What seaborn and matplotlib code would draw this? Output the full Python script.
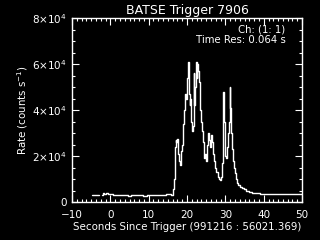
import matplotlib
matplotlib.use("Agg")
import matplotlib.pyplot as plt
from matplotlib.ticker import MultipleLocator
import seaborn as sns
import pandas as pd

title = "BATSE Trigger 7906"
xlabel = "Seconds Since Trigger (991216 : 56021.369)"
ylabel = "Rate (counts s$^{-1}$)"
channel_text = "Ch: (1: 1)"
res_text = "Time Res: 0.064 s"

xticks = [-10, 0, 10, 20, 30, 40, 50]
yticks = [0, 20000, 40000, 60000, 80000]
ytick_labels = ["0", "2×10$^4$", "4×10$^4$", "6×10$^4$", "8×10$^4$"]

# first short segment of background
pre_time = [-4.8, -3.0]
pre_rate = [2900, 2900]

# main light curve
time = [-2.2, -1.8, -1.4, -0.8, -0.3, 0.3, 1.0, 2.0, 3.0, 4.0, 5.0, 6.0, 7.0, 8.0, 9.0,
        10.0, 11.0, 12.0, 13.0, 14.0, 15.0, 15.6, 16.1, 16.4, 16.6, 16.9, 17.1, 17.3, 17.5,
        17.8, 18.1, 18.3, 18.6, 18.9, 19.1, 19.4, 19.6, 19.9, 20.1, 20.4, 20.6, 20.8, 21.0,
        21.2, 21.4, 21.6, 21.8, 22.0, 22.2, 22.4, 22.6, 22.8, 23.0, 23.2, 23.4, 23.6, 23.8,
        24.0, 24.3, 24.5, 24.7, 25.0, 25.3, 25.5, 25.8, 26.0, 26.3, 26.5, 26.8, 27.1, 27.4,
        27.8, 28.1, 28.4, 28.7, 29.0, 29.2, 29.4, 29.5, 29.7, 29.9, 30.1, 30.3, 30.5, 30.8,
        31.0, 31.2, 31.4, 31.6, 31.8, 32.0, 32.3, 32.6, 32.9, 33.2, 33.6, 34.0, 34.5, 35.0,
        35.5, 36.0, 36.5, 37.5, 38.5, 39.5, 41.0, 43.0, 45.0, 47.0, 48.5, 49.5, 50.0]
rate = [3200, 3900, 3500, 4000, 3700, 3300, 3000, 3200, 2900, 3100, 2800, 3100, 2900, 3000, 2800,
        3000, 3100, 2900, 3100, 3000, 3300, 3600, 3200, 5500, 10000, 24000, 27000, 26000, 27500,
        21000, 18000, 16000, 22000, 25000, 34000, 40000, 47000, 45000, 54000, 61000, 47000, 42000, 45000,
        35000, 31000, 33000, 56000, 42000, 50000, 61000, 54000, 60000, 57000, 52000, 44000, 40000, 35000,
        31000, 26000, 19000, 21000, 18000, 25000, 30000, 27000, 24000, 29000, 26000, 21000, 18000, 15000,
        13000, 11000, 10000, 9500, 11000, 17000, 30000, 48000, 35000, 25000, 20000, 19000, 24000, 30000,
        35000, 50000, 41000, 30000, 23000, 18000, 15000, 12500, 10000, 8500, 7500, 6700, 6000, 5500,
        5000, 4700, 4400, 4000, 3800, 3700, 3600, 3500, 3400, 3300, 3500, 3300, 3300]

sns.set_style("dark")
plt.rcParams["font.family"] = ["DejaVu Sans"]

fig = plt.figure(figsize=(3.2, 2.4), dpi=100, facecolor="black")
ax = fig.add_axes([0.225, 0.158, 0.719, 0.767])
ax.set_facecolor("black")

pre_df = pd.DataFrame({"t": pre_time, "r": pre_rate})
df = pd.DataFrame({"t": time, "r": rate})
sns.lineplot(data=pre_df, x="t", y="r", ax=ax, color="white", lw=1.0,
             estimator=None, sort=False, drawstyle="steps-mid")
sns.lineplot(data=df, x="t", y="r", ax=ax, color="white", lw=1.0,
             estimator=None, sort=False, drawstyle="steps-mid")

ax.set_xlim(-10, 50)
ax.set_ylim(0, 80000)
ax.set_xticks(xticks)
ax.set_xticklabels([str(v).replace("-", "\u2212") for v in xticks])
ax.set_yticks(yticks)
ax.set_yticklabels(ytick_labels)
ax.xaxis.set_minor_locator(MultipleLocator(1.25))
ax.yaxis.set_minor_locator(MultipleLocator(5000))
ax.grid(False)

for s in ax.spines.values():
    s.set_visible(True)
    s.set_color("white")
    s.set_linewidth(1.0)

ax.tick_params(which="both", direction="in", colors="white", top=True, right=True,
               bottom=True, left=True, labelsize=7.5, width=0.8)
ax.tick_params(which="major", length=5)
ax.tick_params(axis="x", which="major", pad=6)
ax.tick_params(axis="y", which="major", pad=4)
ax.tick_params(which="minor", length=2.5)

ax.set_xlabel(xlabel, color="white", fontsize=7.4, labelpad=1)
ax.set_ylabel(ylabel, color="white", fontsize=7.4)
ax.yaxis.set_label_coords(-0.183, 0.5)
ax.set_title(title, color="white", fontsize=9, pad=3)

ax.text(0.926, 0.938, channel_text, transform=ax.transAxes, color="white",
        fontsize=7.3, ha="right", va="center")
ax.text(0.93, 0.88, res_text, transform=ax.transAxes, color="white",
        fontsize=7.3, ha="right", va="center")

fig.savefig("out.png", dpi=100, facecolor="black")
